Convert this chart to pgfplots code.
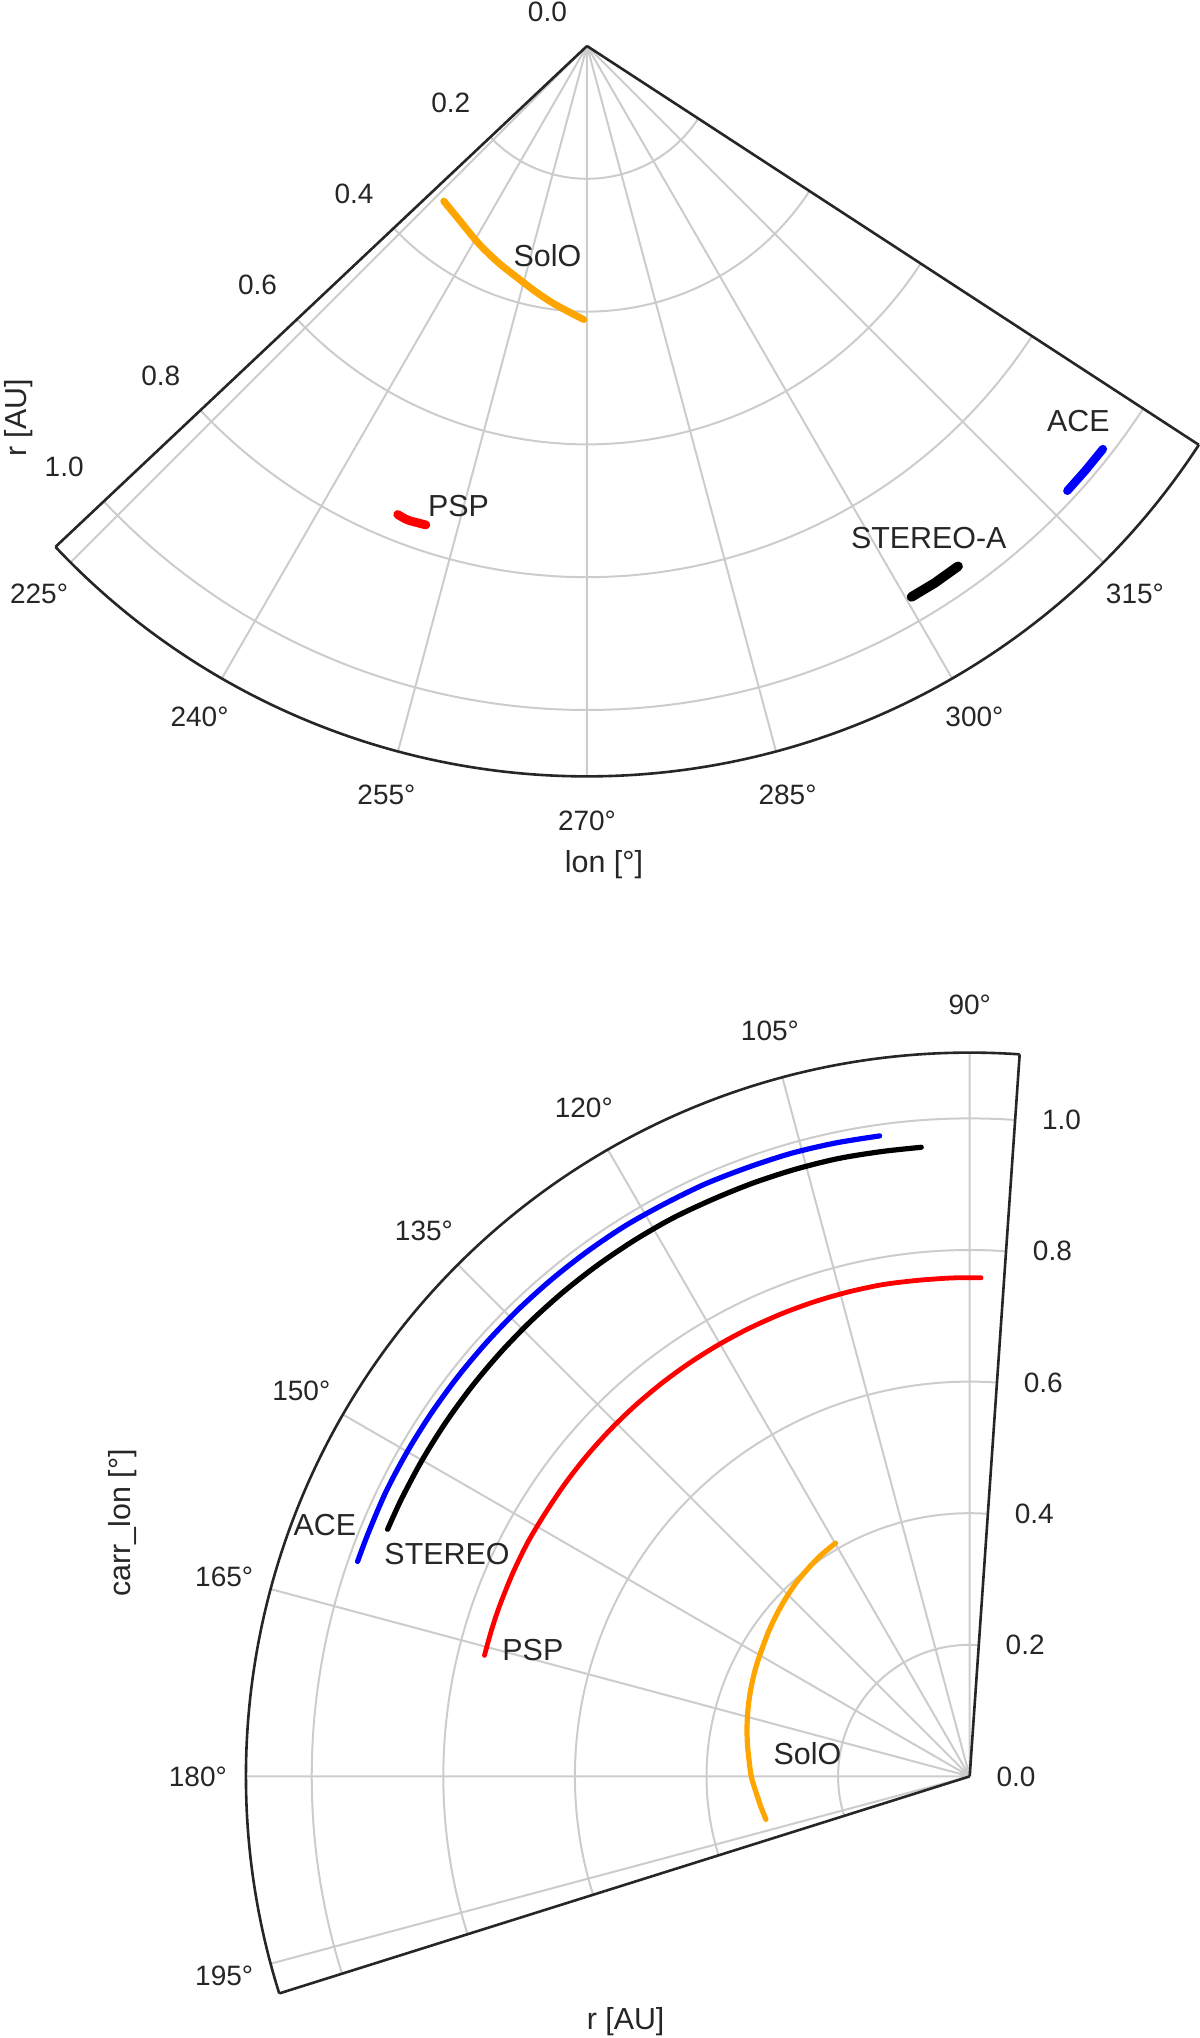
\documentclass[border=0pt]{standalone}
\usepackage{fontspec}
\setmainfont{Liberation Sans}
\usepackage{pgfplots}
\usepackage{pgfplotstable}
\pgfplotsset{compat=1.18}
\usepgfplotslibrary{polar}
\definecolor{gridc}{HTML}{CCCCCC}
\definecolor{txt}{HTML}{262626}
\definecolor{orng}{HTML}{FFA500}

% ---------- top panel (lon, r) ----------
\pgfplotstableread{
th r
227.3 0.318
233.7 0.325
241.1 0.339
247.5 0.352
253.1 0.364
258.2 0.378
262.9 0.392
269.3 0.412
}\topsolo
\pgfplotstableread{
th r
248.0 0.761
249.0 0.763
249.7 0.763
250.5 0.762
251.4 0.761
}\toppsp
\pgfplotstableread{
th r
300.5 0.963
302.9 0.9635
305.5 0.9625
}\topsta
\pgfplotstableread{
th r
317.2 0.986
319.6 0.986
322.0 0.986
}\topace

% ---------- bottom panel (carr_lon, r) ----------
\pgfplotstableread{
th r
98.0 0.983
102 0.984
106 0.985
110 0.985
114 0.986
118 0.986
122 0.987
126 0.987
130 0.987
134 0.987
138 0.987
142 0.987
146 0.987
150 0.987
154 0.987
158 0.986
160.65 0.986
}\botace
\pgfplotstableread{
th r
94.4 0.959
98 0.959
102 0.960
106 0.960
110 0.960
114 0.960
118 0.961
122 0.961
126 0.961
130 0.961
134 0.961
138 0.961
142 0.961
146 0.961
150 0.961
154 0.961
157.0 0.961
}\botsta
\pgfplotstableread{
th r
88.7 0.758
92 0.758
96 0.758
100 0.759
104 0.759
108 0.759
112 0.759
116 0.759
120 0.759
124 0.759
128 0.759
132 0.759
136 0.759
140 0.759
144 0.759
148 0.759
152 0.760
156 0.760
160 0.760
163 0.760
166.0 0.760
}\botpsp
\pgfplotstableread{
th r
119.9 0.409
124 0.405
128 0.400
132 0.395
136 0.389
140 0.383
144 0.377
148 0.371
152 0.366
156 0.361
160 0.356
164 0.351
168 0.346
172 0.341
176 0.336
180 0.332
184 0.326
188 0.321
191.9 0.3166
}\botsolo

\tikzset{
  tlab/.style={font=\fontsize{7}{8}\selectfont, text=txt, inner sep=0pt, anchor=center},
  alab/.style={font=\fontsize{7.6}{9}\selectfont, text=txt, inner sep=0pt, anchor=center},
}
\pgfplotsset{
  mypolar/.style={
    scale only axis, ymin=0, ymax=1.1,
    ytick={0,0.2,0.4,0.6,0.8,1.0},
    xticklabels={}, yticklabels={},
    major tick length=0pt,
    xmajorgrids, ymajorgrids,
    grid style={draw=gridc, line width=0.5pt},
    axis line style={draw=txt, line width=0.65pt},
    clip=false,
  },
}

\begin{document}
\begin{tikzpicture}
\path[use as bounding box] (0pt,0pt) rectangle (300pt,509.5pt);

% ================= TOP =================
\begin{polaraxis}[mypolar,
  at={(146.75pt,498pt)}, anchor=origin,
  width=365.2pt, height=365.2pt,
  xmin=223.3, xmax=326.9,
  xtick={225,240,255,270,285,300,315},
]
\addplot[orng, line width=1.75pt, line cap=round, line join=round, smooth] table[x=th,y=r] {\topsolo};
\addplot[red, line width=2.2pt, line cap=round, line join=round, smooth] table[x=th,y=r] {\toppsp};
\addplot[black, line width=2.4pt, line cap=round, line join=round] table[x=th,y=r] {\topsta};
\addplot[blue, line width=2.1pt, line cap=round, line join=round] table[x=th,y=r] {\topace};

\node[alab] at (axis cs:259.3,0.321) {SolO};
\node[alab] at (axis cs:254.4,0.720) {PSP};
\node[alab] at (axis cs:304.8,0.902) {STEREO-A};
\node[alab] at (axis cs:322.65,0.931) {ACE};

\node[tlab, xshift=-9.9pt, yshift=8.6pt] at (axis cs:223.3,0) {0.0};
\node[tlab, xshift=-9.9pt, yshift=8.6pt] at (axis cs:223.3,0.2) {0.2};
\node[tlab, xshift=-9.9pt, yshift=8.6pt] at (axis cs:223.3,0.4) {0.4};
\node[tlab, xshift=-9.9pt, yshift=8.6pt] at (axis cs:223.3,0.6) {0.6};
\node[tlab, xshift=-9.9pt, yshift=8.6pt] at (axis cs:223.3,0.8) {0.8};
\node[tlab, xshift=-9.9pt, yshift=8.6pt] at (axis cs:223.3,1.0) {1.0};

\node[tlab] at (axis cs:225,1.167) {225°};
\node[tlab] at (axis cs:240,1.167) {240°};
\node[tlab] at (axis cs:255,1.167) {255°};
\node[tlab] at (axis cs:270,1.167) {270°};
\node[tlab] at (axis cs:285,1.167) {285°};
\node[tlab] at (axis cs:300,1.167) {300°};
\node[tlab] at (axis cs:315,1.167) {315°};
\end{polaraxis}

% ================= BOTTOM =================
\begin{polaraxis}[mypolar,
  at={(242.425pt,65.4pt)}, anchor=origin,
  width=361.9pt, height=361.9pt,
  xmin=86.04, xmax=197.45,
  xtick={90,105,120,135,150,165,180,195},
]
\addplot[orng, line width=1.3pt, line cap=round, line join=round, smooth] table[x=th,y=r] {\botsolo};
\addplot[red, line width=1.2pt, line cap=round, line join=round, smooth] table[x=th,y=r] {\botpsp};
\addplot[black, line width=1.3pt, line cap=round, line join=round, smooth] table[x=th,y=r] {\botsta};
\addplot[blue, line width=1.3pt, line cap=round, line join=round, smooth] table[x=th,y=r] {\botace};

\node[alab] at (axis cs:171.9,0.249) {SolO};
\node[alab] at (axis cs:163.9,0.691) {PSP};
\node[alab] at (axis cs:157.0,0.863) {STEREO};
\node[alab] at (axis cs:158.7,1.052) {ACE};

\node[tlab, xshift=11.6pt] at (axis cs:86.04,0) {0.0};
\node[tlab, xshift=11.6pt] at (axis cs:86.04,0.2) {0.2};
\node[tlab, xshift=11.6pt] at (axis cs:86.04,0.4) {0.4};
\node[tlab, xshift=11.6pt] at (axis cs:86.04,0.6) {0.6};
\node[tlab, xshift=11.6pt] at (axis cs:86.04,0.8) {0.8};
\node[tlab, xshift=11.6pt] at (axis cs:86.04,1.0) {1.0};

\node[tlab] at (axis cs:90,1.173) {90°};
\node[tlab] at (axis cs:105,1.173) {105°};
\node[tlab] at (axis cs:120,1.173) {120°};
\node[tlab] at (axis cs:135,1.173) {135°};
\node[tlab] at (axis cs:150,1.173) {150°};
\node[tlab] at (axis cs:165,1.173) {165°};
\node[tlab] at (axis cs:180,1.173) {180°};
\node[tlab] at (axis cs:195,1.173) {195°};
\end{polaraxis}

% axis titles
\node[alab, rotate=90] at (4.6pt,405pt) {r [AU]};
\node[alab] at (151pt,293.25pt) {lon [°]};
\node[alab, rotate=90] at (30.6pt,128.75pt) {carr\_lon [°]};
\node[alab] at (156.4pt,4.2pt) {r [AU]};
\end{tikzpicture}
\end{document}
